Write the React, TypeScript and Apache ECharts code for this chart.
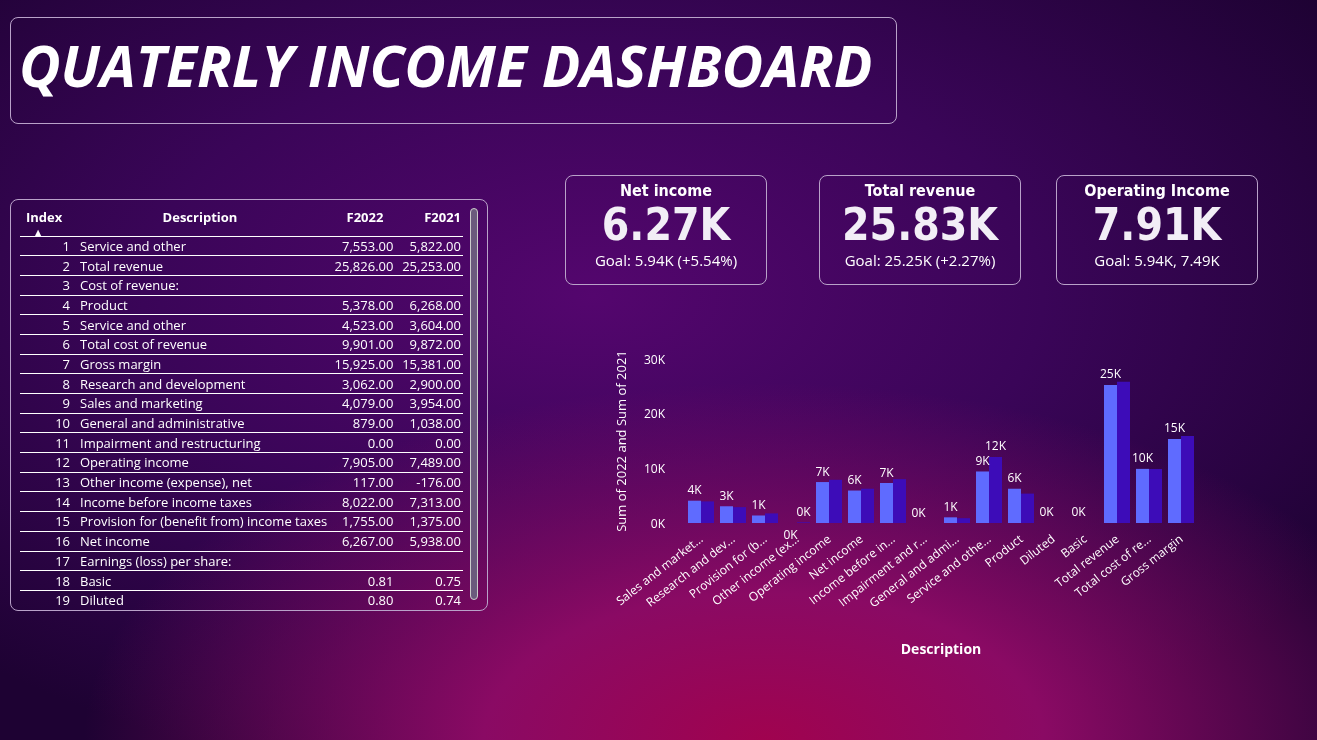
import * as echarts from 'echarts';
import { useEffect, useRef } from 'react';

const rows: [number, string, string, string][] = [
  [1, 'Service and other', '7,553.00', '5,822.00'],
  [2, 'Total revenue', '25,826.00', '25,253.00'],
  [3, 'Cost of revenue:', '', ''],
  [4, 'Product', '5,378.00', '6,268.00'],
  [5, 'Service and other', '4,523.00', '3,604.00'],
  [6, 'Total cost of revenue', '9,901.00', '9,872.00'],
  [7, 'Gross margin', '15,925.00', '15,381.00'],
  [8, 'Research and development', '3,062.00', '2,900.00'],
  [9, 'Sales and marketing', '4,079.00', '3,954.00'],
  [10, 'General and administrative', '879.00', '1,038.00'],
  [11, 'Impairment and restructuring', '0.00', '0.00'],
  [12, 'Operating income', '7,905.00', '7,489.00'],
  [13, 'Other income (expense), net', '117.00', '-176.00'],
  [14, 'Income before income taxes', '8,022.00', '7,313.00'],
  [15, 'Provision for (benefit from) income taxes', '1,755.00', '1,375.00'],
  [16, 'Net income', '6,267.00', '5,938.00'],
  [17, 'Earnings (loss) per share:', '', ''],
  [18, 'Basic', '0.81', '0.75'],
  [19, 'Diluted', '0.80', '0.74'],
];

const cards = [
  { title: 'Net income', value: '6.27K', goal: 'Goal: 5.94K (+5.54%)', left: 565 },
  { title: 'Total revenue', value: '25.83K', goal: 'Goal: 25.25K (+2.27%)', left: 819 },
  { title: 'Operating Income', value: '7.91K', goal: 'Goal: 5.94K, 7.49K', left: 1056 },
];

const categories = [
  'Sales and marketing', 'Research and development', 'Provision for (benefit from) income taxes',
  'Other income (expense), net', 'Operating income', 'Net income', 'Income before income taxes',
  'Impairment and restructuring', 'General and administrative', 'Service and other', 'Product',
  'Diluted', 'Basic', 'Total revenue', 'Total cost of revenue', 'Gross margin',
];
const seriesA = [4079, 3062, 1375, -176, 7489, 5938, 7313, 0, 1038, 9426, 6268, 0.8, 0.81, 25253, 9901, 15381];
const seriesB = [3954, 2900, 1755, 117, 7905, 6267, 8022, 0, 879, 12076, 5378, 0.74, 0.75, 25826, 9872, 15925];

const font = 'Open Sans, DejaVu Sans, sans-serif';

function shortName(s: string) {
  return s.length > 16 ? s.slice(0, 16) + '...' : s;
}

function BarChart() {
  const ref = useRef<HTMLDivElement>(null);
  useEffect(() => {
    if (!ref.current) return;
    const chart = echarts.init(ref.current, null, { renderer: 'svg' });
    const kLabel = (p: any) => Math.round(p.value / 1000) + 'K';
    const lbl = { color: '#fff', fontSize: 12, fontFamily: font, formatter: kLabel };
    chart.setOption({
      animation: false,
      grid: { left: 85, right: 3, top: 9, bottom: 130 },
      xAxis: {
        type: 'category',
        data: categories,
        name: 'Description',
        nameLocation: 'middle',
        nameGap: 118,
        nameTextStyle: { color: '#fff', fontSize: 14, fontWeight: 'bold', fontFamily: font },
        axisLine: { show: false },
        axisTick: { show: false },
        axisLabel: { color: '#fff', rotate: 38, fontSize: 12, fontFamily: font, interval: 0, margin: 14, formatter: shortName },
      },
      yAxis: {
        type: 'value',
        min: 0,
        max: 30000,
        interval: 10000,
        name: 'Sum of 2022 and Sum of 2021',
        nameLocation: 'middle',
        nameGap: 58,
        nameTextStyle: { color: '#fff', fontSize: 13, fontFamily: font },
        splitLine: { show: false },
        axisLabel: { color: '#fff', fontSize: 12, fontFamily: font, margin: 20, formatter: (v: number) => v / 1000 + 'K' },
      },
      series: [
        {
          type: 'bar',
          data: seriesA.map((v, i) => (i === 3 ? { value: v, label: { ...lbl, show: true, position: 'bottom' } } : v)),
          barWidth: 13,
          barGap: '0%',
          itemStyle: { color: '#5f6bff' },
          label: { ...lbl, show: true, position: 'top' },
        },
        {
          type: 'bar',
          data: seriesB.map((v, i) =>
            i === 9 || i === 3 ? { value: v, label: { ...lbl, show: true, position: 'top' } } : v,
          ),
          barWidth: 13,
          itemStyle: { color: '#3d0cb8' },
        },
      ],
    });
    return () => chart.dispose();
  }, []);
  return <div ref={ref} style={{ position: 'absolute', left: 600, top: 350, width: 600, height: 310 }} />;
}

export default function App() {
  const box = { position: 'absolute' as const, border: '1px solid #b9a2c9', borderRadius: 8, color: '#fff', boxSizing: 'border-box' as const };
  return (
    <div
      style={{
        position: 'fixed', left: 0, top: 0, width: 1317, height: 740, overflow: 'hidden', fontFamily: font,
        background:
          'radial-gradient(ellipse 800px 420px at 58% 100%, #a0034f 0%, #8a0a64 35%, rgba(110,8,110,0) 85%), radial-gradient(ellipse 900px 500px at 45% 40%, #54066e 0%, #3a0558 50%, #1e0233 100%)',
      }}
    >
      <div style={{ ...box, left: 10, top: 17, width: 887, height: 107 }}>
        <div style={{ position: 'absolute', left: 8, top: 8, fontSize: 57, fontWeight: 700, fontStyle: 'italic' }}>
          QUATERLY INCOME DASHBOARD
        </div>
      </div>

      <div style={{ ...box, left: 10, top: 199, width: 478, height: 412, overflow: 'hidden' }}>
        <table style={{ position: 'absolute', left: 9, top: 6, width: 443, borderCollapse: 'collapse', fontSize: 13, color: '#fff' }}>
          <thead>
            <tr style={{ height: 30, fontWeight: 700, borderBottom: '1px solid #fff' }}>
              <th style={{ textAlign: 'left', width: 44, padding: '0 0 8px 6px', position: 'relative' }}>
                Index<div style={{ position: 'absolute', left: 15, bottom: -1, fontSize: 8 }}>▲</div>
              </th>
              <th style={{ textAlign: 'center', paddingBottom: 8 }}>Description</th>
              <th style={{ textAlign: 'right', padding: '0 10px 8px 0' }}>F2022</th>
              <th style={{ textAlign: 'right', padding: '0 2px 8px 0' }}>F2021</th>
            </tr>
          </thead>
          <tbody>
            {rows.map(r => (
              <tr key={r[0]} style={{ height: 19.7, borderBottom: '1px solid #fff' }}>
                <td style={{ textAlign: 'right', padding: 0 }}>{r[0]}</td>
                <td style={{ padding: '0 0 0 10px', whiteSpace: 'nowrap' }}>{r[1]}</td>
                <td style={{ textAlign: 'right', padding: '0 0 0 4px' }}>{r[2]}</td>
                <td style={{ textAlign: 'right', padding: '0 2px 0 8px' }}>{r[3]}</td>
              </tr>
            ))}
          </tbody>
        </table>
        <div style={{ position: 'absolute', left: 459, top: 8, width: 8, height: 392, borderRadius: 4, background: '#6b5a7d', border: '1px solid #ccc', boxSizing: 'border-box' }} />
      </div>

      {cards.map(c => (
        <div key={c.title} style={{ ...box, left: c.left, top: 175, width: 202, height: 110, textAlign: 'center' }}>
          <div style={{ marginTop: 5, fontSize: 16, fontWeight: 700, fontFamily: 'DejaVu Sans Condensed, sans-serif' }}>{c.title}</div>
          <div style={{ fontSize: 44, fontWeight: 700, lineHeight: '50px', color: '#f2eef6', fontFamily: 'DejaVu Sans Condensed, sans-serif' }}>{c.value}</div>
          <div style={{ fontSize: 15 }}>{c.goal}</div>
        </div>
      ))}

      <BarChart />
    </div>
  );
}
